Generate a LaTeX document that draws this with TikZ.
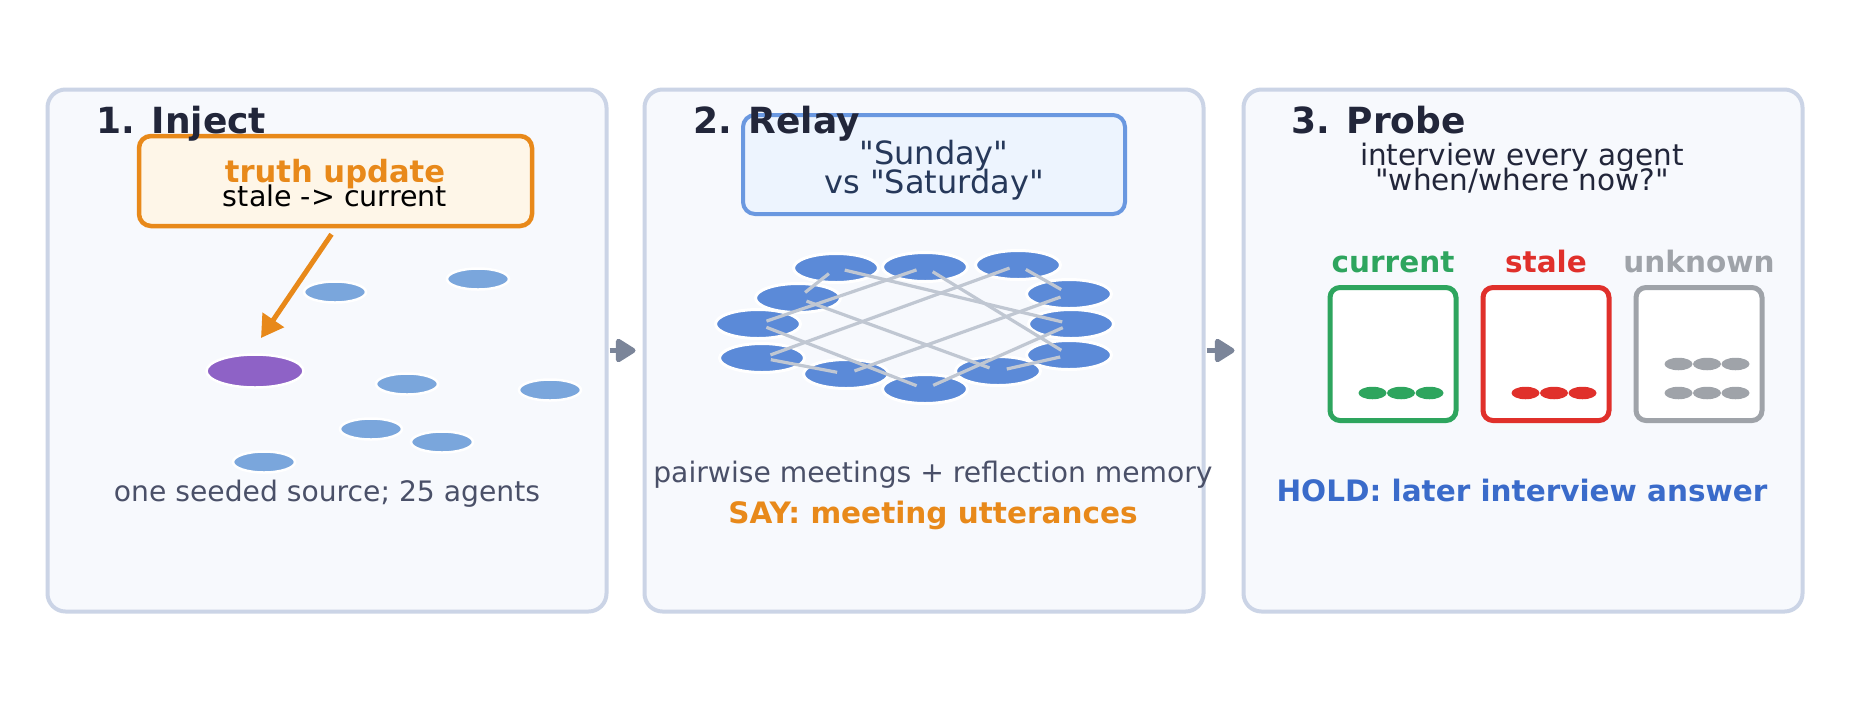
\documentclass[tikz,border=0pt]{standalone}
\usepackage{fontspec}
\setmainfont{DejaVu Sans}[Ligatures=TeXOff]
\usetikzlibrary{shapes.geometric,arrows.meta}
\definecolor{panelfill}{HTML}{F7F9FD}
\definecolor{panelborder}{HTML}{CBD4E6}
\definecolor{titlec}{HTML}{22263A}
\definecolor{orangec}{HTML}{E8891A}
\definecolor{orangefill}{HTML}{FEF6E8}
\definecolor{bluefill}{HTML}{EDF4FE}
\definecolor{blueborder}{HTML}{6A98E0}
\definecolor{navyc}{HTML}{26385A}
\definecolor{agentc}{HTML}{7AA6DC}
\definecolor{purplec}{HTML}{8E62C6}
\definecolor{netc}{HTML}{5B8AD8}
\definecolor{edgec}{HTML}{C0C7D2}
\definecolor{grayt}{HTML}{4A5068}
\definecolor{greenc}{HTML}{2EA55E}
\definecolor{redc}{HTML}{E0302B}
\definecolor{grayc}{HTML}{9FA3A9}
\definecolor{holdc}{HTML}{3A6BCA}
\definecolor{arrowc}{HTML}{7B8599}
\tikzset{
  panel/.style={draw=panelborder, fill=panelfill, line width=4pt, rounded corners=18pt,
    minimum width=559pt, minimum height=522pt, inner sep=0pt, outer sep=0pt},
  ttl/.style={anchor=base west, inner sep=0pt, text=titlec, font=\fontsize{36}{40}\selectfont\bfseries},
  body/.style={anchor=base, inner sep=0pt, font=\fontsize{29.5}{34}\selectfont},
  grayb/.style={anchor=base, inner sep=0pt, text=grayt, font=\fontsize{28.2}{34}\selectfont},
  bodyb/.style={anchor=base, inner sep=0pt, font=\fontsize{29.5}{34}\selectfont\bfseries},
  agent/.style={ellipse, fill=agentc, draw=white, line width=2.5pt, minimum width=62pt, minimum height=21pt, inner sep=0pt},
  netnode/.style={ellipse, fill=netc, draw=white, line width=3pt, minimum width=85pt, minimum height=29pt, inner sep=0pt},
  netedge/.style={draw=edgec, line width=3.2pt, shorten <=9pt, shorten >=9pt},
  parrow/.style={draw=arrowc, line width=5pt, shorten <=3pt, shorten >=9pt, -{Triangle[length=22pt,width=26pt,round]}},
  catbox/.style={rectangle, fill=white, line width=5pt, rounded corners=10pt, minimum width=126pt, minimum height=133pt, inner sep=0pt},
  dot/.style={ellipse, minimum width=28pt, minimum height=12.5pt, inner sep=0pt},
}
\begin{document}
\begin{tikzpicture}[x=1pt,y=-1pt]
\useasboundingbox (0,0) rectangle (1849,716);
\fill[white] (0,0) rectangle (1849,716);

% panels
\node[panel] (p1) at (327,350.5) {};
\node[panel] (p2) at (924,350.5) {};
\node[panel] (p3) at (1523,350.5) {};
\draw[parrow] (p1.east) -- (p2.west);
\draw[parrow] (p2.east) -- (p3.west);

% ---------- panel 1 ----------
\node[rectangle, draw=orangec, fill=orangefill, line width=4.5pt, rounded corners=12pt,
  minimum width=393pt, minimum height=90pt, inner sep=0pt] (truth) at (335.5,181) {};
\node[ttl] (t1) at (96,133) {1. Inject};
\node[bodyb, text=orangec, font=\fontsize{30.6}{34}\selectfont\bfseries] (tu) at (335,182) {truth update};
\node[body, text=black, font=\fontsize{28.5}{34}\selectfont] (sc) at (335,206) {stale -> current};

\node[ellipse, fill=purplec, draw=white, line width=2.5pt, minimum width=97pt, minimum height=33pt, inner sep=0pt] (src) at (255,371) {};
\node[agent] (a1) at (335,292) {};
\node[agent] (a2) at (478,279) {};
\node[agent] (a3) at (407,384) {};
\node[agent] (a4) at (550,390) {};
\node[agent] (a5) at (371,429) {};
\node[agent] (a6) at (442,442) {};
\node[agent] (a7) at (264,462) {};
\coordinate (tip) at (261,338);
\draw[draw=orangec, line width=5pt, -{Triangle[length=22pt,width=25pt]}] ([shift={(-4,6)}]truth.south) -- (tip);
\node[grayb] (c1) at (327,501) {one seeded source; 25 agents};

% ---------- panel 2 ----------
\node[rectangle, draw=blueborder, fill=bluefill, line width=4pt, rounded corners=12pt,
  minimum width=382pt, minimum height=99pt, inner sep=0pt] (quote) at (934,164.5) {};
\node[ttl] (t2) at (693,133) {2. Relay};
\node[body, text=navyc, font=\fontsize{32}{36}\selectfont] (q1) at (934,164) {"Sunday"};
\node[body, text=navyc, font=\fontsize{32}{36}\selectfont] (q2) at (934,193) {vs "Saturday"};

\node[netnode] (n1) at (836,268) {};
\node[netnode] (n2) at (925,267) {};
\node[netnode] (n3) at (1018,265) {};
\node[netnode] (n4) at (1069,294) {};
\node[netnode] (n5) at (1071,324) {};
\node[netnode] (n6) at (1069,355) {};
\node[netnode] (n7) at (998,371) {};
\node[netnode] (n8) at (925,389) {};
\node[netnode] (n9) at (846,374) {};
\node[netnode] (n10) at (762,358) {};
\node[netnode] (n11) at (758,324) {};
\node[netnode] (n12) at (798,298) {};
\foreach \a/\b in {1/12,1/5,2/11,2/6,3/10,3/4,4/9,5/8,12/7,11/8,10/9,7/6}
  \draw[netedge] (n\a.center) -- (n\b.center);

\node[grayb] (c2) at (933,482) {pairwise meetings + reflection memory};
\node[bodyb, text=orangec] (say) at (933,523) {SAY: meeting utterances};

% ---------- panel 3 ----------
\node[ttl] (t3) at (1291,133) {3. Probe};
\node[body, text=titlec] (i1) at (1522,165) {interview every agent};
\node[body, text=titlec] (i2) at (1522,190) {"when/where now?"};

\node[bodyb, text=greenc] (lc) at (1393,272) {current};
\node[bodyb, text=redc] (ls) at (1546,272) {stale};
\node[bodyb, text=grayc] (lu) at (1699,272) {unknown};

\node[catbox, draw=greenc] (bc) at (1393,354) {};
\node[catbox, draw=redc] (bs) at (1546,354) {};
\node[catbox, draw=grayc] (bu) at (1699,354) {};

\foreach \dx [count=\i] in {-20.5,8,36.5} {
  \node[dot, fill=greenc] (gc\i) at ([shift={(\dx,39)}]bc.center) {};
  \node[dot, fill=redc] (rs\i) at ([shift={(\dx,39)}]bs.center) {};
  \node[dot, fill=grayc] (ua\i) at ([shift={(\dx,10)}]bu.center) {};
  \node[dot, fill=grayc] (ub\i) at ([shift={(\dx,39)}]bu.center) {};
}

\node[bodyb, text=holdc] (hold) at (1522,501) {HOLD: later interview answer};
\end{tikzpicture}
\end{document}
